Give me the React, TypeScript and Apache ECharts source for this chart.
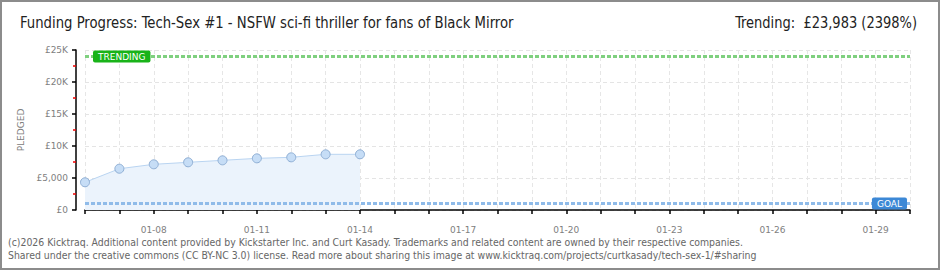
import React, { useEffect, useRef } from "react";
import * as echarts from "echarts";

const dates = [
  "01-06", "01-07", "01-08", "01-09", "01-10", "01-11", "01-12", "01-13", "01-14",
  "01-15", "01-16", "01-17", "01-18", "01-19", "01-20", "01-21", "01-22", "01-23",
  "01-24", "01-25", "01-26", "01-27", "01-28", "01-29", "01-30",
];
const pledged = [4330, 6450, 7140, 7450, 7760, 8070, 8230, 8700, 8700];
const yTickLabels = ["£0", "£5,000", "£10K", "£15K", "£20K", "£25K"];
const trendingValue = 23983;
const goalValue = 1000;
const titleText = "Funding Progress: Tech-Sex #1 - NSFW sci-fi thriller for fans of Black Mirror";
const trendingText = "Trending:  £23,983 (2398%)";
const footer1 =
  "(c)2026 Kicktraq. Additional content provided by Kickstarter Inc. and Curt Kasady. Trademarks and related content are owned by their respective companies.";
const footer2 =
  "Shared under the creative commons (CC BY-NC 3.0) license. Read more about sharing this image at www.kicktraq.com/projects/curtkasady/tech-sex-1/#sharing";

export default function App() {
  const ref = useRef<HTMLDivElement>(null);
  useEffect(() => {
    if (!ref.current) return;
    const chart = echarts.init(ref.current, null, { renderer: "svg" });
    const axisFont = { fontFamily: "DejaVu Sans", fontSize: 9, color: "#808080" };
    const titleFont = { fontFamily: "DejaVu Sans Condensed", fontSize: 16, fill: "#222", verticalAlign: "top" };
    const footFont = { fontFamily: "DejaVu Sans Condensed", fontSize: 10.4, fill: "#666", verticalAlign: "top" };
    chart.setOption({
      animation: false,
      backgroundColor: "#fff",
      grid: { left: 85, right: 30, top: 50, bottom: 60, containLabel: false },
      xAxis: {
        type: "category",
        data: dates,
        boundaryGap: false,
        offset: 10,
        axisLine: { show: true, lineStyle: { color: "#000", width: 1.5 } },
        axisTick: { show: true, interval: 0, length: 4, lineStyle: { color: "#000", width: 1.5 } },
        axisLabel: {
          ...axisFont,
          margin: 5,
          interval: (idx: number) => idx % 3 === 2,
        },
        splitLine: { show: true, interval: 0, lineStyle: { color: "#e6e6e6", type: [4, 3] } },
      },
      yAxis: {
        type: "value",
        min: 0,
        max: 25000,
        interval: 5000,
        offset: 9,
        name: "PLEDGED",
        nameLocation: "middle",
        nameGap: 47,
        nameTextStyle: { fontFamily: "DejaVu Sans", fontSize: 9, color: "#808080" },
        axisLine: { show: true, lineStyle: { color: "#000", width: 1.5 } },
        axisTick: { show: true, length: 4, lineStyle: { color: "#000", width: 1.5 } },
        minorTick: { show: true, splitNumber: 2, length: 3, lineStyle: { color: "#e00", width: 1.5 } },
        axisLabel: {
          ...axisFont,
          margin: 8,
          formatter: (v: number) => yTickLabels[Math.round(v / 5000)] ?? "",
        },
        splitLine: { show: true, lineStyle: { color: "#e4e4e4", type: [4, 3] } },
      },
      series: [
        {
          type: "line",
          data: pledged,
          symbol: "circle",
          symbolSize: 9,
          itemStyle: { color: "#c6ddf6", borderColor: "#8eaed4", borderWidth: 1 },
          lineStyle: { color: "#b9d4f1", width: 1 },
          areaStyle: { color: "#ebf3fc", opacity: 1 },
          z: 3,
          markLine: {
            symbol: "none",
            silent: true,
            z: 4,
            data: [
              {
                yAxis: trendingValue,
                lineStyle: { color: "#7fd07f", width: 3, type: [4, 2] },
                label: {
                  show: true,
                  position: "insideStart",
                  formatter: "TRENDING",
                  color: "#fff",
                  backgroundColor: "#19b319",
                  borderRadius: 2,
                  padding: [2, 5, 1, 5],
                  fontFamily: "DejaVu Sans",
                  fontSize: 9,
                  verticalAlign: "middle",
                  distance: [8, 0],
                },
              },
              {
                yAxis: goalValue,
                lineStyle: { color: "#8fbbe9", width: 3, type: [4, 2] },
                label: {
                  show: true,
                  position: "insideEnd",
                  formatter: "GOAL",
                  color: "#fff",
                  backgroundColor: "#3c88d6",
                  borderRadius: 2,
                  padding: [2, 5, 1, 5],
                  fontFamily: "DejaVu Sans",
                  fontSize: 9,
                  verticalAlign: "middle",
                  distance: [3, 0],
                },
              },
            ],
          },
        },
      ],
      graphic: [
        {
          type: "rect",
          shape: { x: 1, y: 1, width: 938, height: 268 },
          style: { fill: "none", stroke: "#8c8c8c", lineWidth: 2 },
          silent: true,
        },
        {
          type: "text",
          x: 20,
          y: 15,
          scaleX: 0.92,
          style: { text: titleText, ...titleFont, align: "left" },
        },
        {
          type: "text",
          x: 917,
          y: 15,
          scaleX: 0.905,
          style: { text: trendingText, ...titleFont, align: "right" },
        },
        { type: "text", x: 8, y: 237, style: { text: footer1, ...footFont } },
        { type: "text", x: 8, y: 250, style: { text: footer2, ...footFont } },
      ],
    });
    return () => chart.dispose();
  }, []);
  return (
    <div
      ref={ref}
      style={{ position: "fixed", left: 0, top: 0, width: 940, height: 270 }}
    />
  );
}
